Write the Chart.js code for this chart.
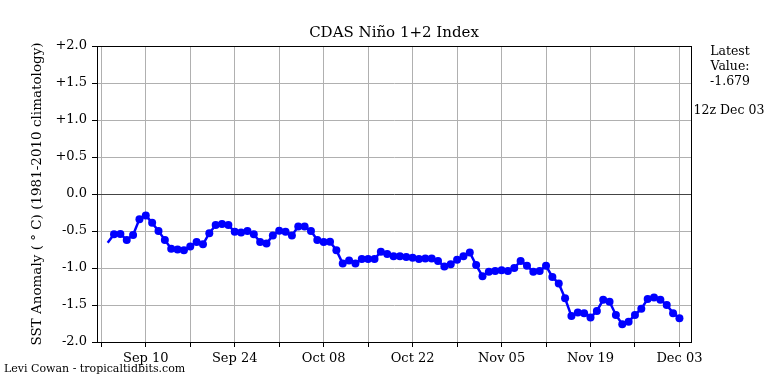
<!DOCTYPE html>
<html>
<head>
<meta charset="utf-8">
<script src="https://cdn.jsdelivr.net/npm/chart.js@4.4.1/dist/chart.umd.min.js"></script>
<style>
  body { margin: 0; background: #fff; }
  canvas { display: block; }
</style>
</head>
<body>
<canvas id="ninoChart" width="768" height="384"></canvas>
<script>
// Daily Nino 1+2 SST anomaly, Sep 04 .. Dec 03 (day 1 = Sep 04, day 0 = Sep 03)
const anomalies = [
  -0.66, -0.545, -0.54, -0.62, -0.555, -0.34, -0.29, -0.39, -0.50, -0.62,
  -0.74, -0.75, -0.76, -0.71, -0.65, -0.68, -0.53, -0.42, -0.405, -0.42,
  -0.51, -0.52, -0.50, -0.545, -0.65, -0.67, -0.56, -0.495, -0.51, -0.56,
  -0.44, -0.44, -0.50, -0.62, -0.65, -0.645, -0.76, -0.94, -0.90, -0.94,
  -0.88, -0.88, -0.88, -0.78, -0.81, -0.84, -0.84, -0.85, -0.86, -0.88,
  -0.87, -0.87, -0.905, -0.98, -0.95, -0.89, -0.84, -0.79, -0.96, -1.11,
  -1.05, -1.04, -1.03, -1.04, -1.00, -0.905, -0.97, -1.05, -1.04, -0.97,
  -1.12, -1.21, -1.41, -1.65, -1.60, -1.61, -1.67, -1.58, -1.43, -1.455,
  -1.635, -1.76, -1.725, -1.635, -1.55, -1.42, -1.40, -1.43, -1.50, -1.61,
  -1.679
];
const firstDay = 1;

// weekly ticks from Sep 03, labels on every other one
const weekTicks = [0, 7, 14, 21, 28, 35, 42, 49, 56, 63, 70, 77, 84, 91];
const tickLabels = ["", "Sep 10", "", "Sep 24", "", "Oct 08", "", "Oct 22", "", "Nov 05", "", "Nov 19", "", "Dec 03"];

const latestValue = "-1.679";
const latestTime = "12z Dec 03";

const serif = "'DejaVu Serif', serif";

// frame + all the loose text matplotlib put around the axes
const extrasPlugin = {
  id: "extras",
  afterDraw(chart) {
    const { ctx, chartArea: a } = chart;
    ctx.save();
    ctx.strokeStyle = "#000";
    ctx.lineWidth = 1;
    ctx.strokeRect(Math.round(a.left) + 0.5, Math.round(a.top) + 0.5,
      Math.round(a.right - a.left), Math.round(a.bottom - a.top));

    ctx.fillStyle = "#000";
    ctx.textAlign = "center";
    ctx.textBaseline = "middle";
    ctx.font = "15px " + serif;
    ctx.fillText("CDAS Niño 1+2 Index", (a.left + a.right) / 2, 33);

    ctx.font = "12.5px " + serif;
    ctx.fillText("Latest", 730, 52);
    ctx.fillText("Value:", 730, 67);
    ctx.fillText(latestValue, 730, 82);
    ctx.fillText(latestTime, 729, 111);

    ctx.font = "11px " + serif;
    ctx.textAlign = "left";
    ctx.fillText("Levi Cowan - tropicaltidbits.com", 4, 369);

    ctx.translate(37, (a.top + a.bottom) / 2);
    ctx.rotate(-Math.PI / 2);
    ctx.textAlign = "center";
    ctx.font = "13.5px " + serif;
    ctx.fillText("SST Anomaly ( ° C) (1981-2010 climatology)", 0, 0);
    ctx.restore();
  }
};

new Chart(document.getElementById("ninoChart"), {
  type: "line",
  data: {
    datasets: [{
      data: anomalies.map((v, i) => ({ x: firstDay + i, y: v })),
      borderColor: "#0000ff",
      backgroundColor: "#0000ff",
      borderWidth: 2.5,
      pointRadius: (c) => (c.dataIndex === 0 ? 0 : 4),
      pointBorderWidth: 0,
      pointBackgroundColor: "#0000ff",
      tension: 0,
      fill: false
    }]
  },
  options: {
    responsive: false,
    animation: false,
    events: [],
    layout: { padding: { top: 46, right: 77, left: 0, bottom: 0 } },
    plugins: { legend: { display: false }, tooltip: { enabled: false } },
    scales: {
      x: {
        type: "linear",
        min: -0.68,
        max: 92.82,
        afterBuildTicks: (scale) => { scale.ticks = weekTicks.map(v => ({ value: v })); },
        afterFit: (scale) => { scale.height = 42; },
        grid: { color: "#b0b0b0", lineWidth: 1, tickColor: "#000", tickLength: 5 },
        border: { display: true, color: "#000", width: 1 },
        ticks: {
          autoSkip: false,
          maxRotation: 0,
          padding: 4,
          color: "#000",
          font: { family: serif, size: 13 },
          callback: (v) => tickLabels[weekTicks.indexOf(v)] || ""
        }
      },
      y: {
        min: -2,
        max: 2,
        afterFit: (scale) => { scale.width = 97; },
        grid: {
          color: (c) => (c.tick && c.tick.value === 0 ? "#444" : "#b0b0b0"),
          lineWidth: 1,
          tickColor: "#000",
          tickLength: 5
        },
        border: { display: true, color: "#000", width: 1 },
        ticks: {
          stepSize: 0.5,
          padding: 5,
          color: "#000",
          font: { family: serif, size: 13 },
          callback: (v) => (v > 0 ? "+" + v.toFixed(1) : v.toFixed(1))
        }
      }
    }
  },
  plugins: [extrasPlugin]
});
</script>
</body>
</html>
